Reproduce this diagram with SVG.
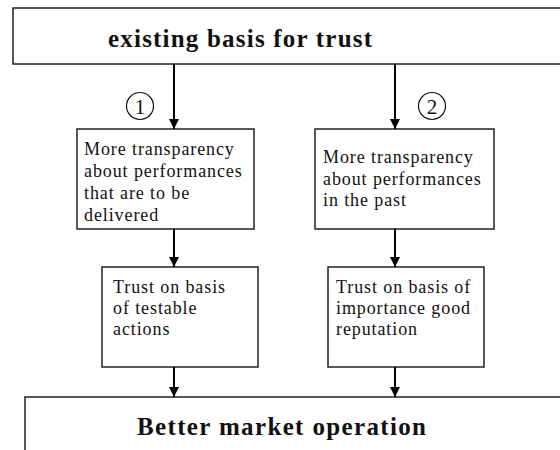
<svg xmlns="http://www.w3.org/2000/svg" width="560" height="450" viewBox="0 0 560 450">
<style>
.box{fill:#fff;stroke:#222;stroke-width:1.5}
.conn{stroke:#000;stroke-width:2;fill:none}
.t{font-family:"Liberation Serif","Times New Roman",serif;font-size:18px;letter-spacing:0.9px;fill:#111}
.h{font-family:"Liberation Serif","Times New Roman",serif;font-size:25px;font-weight:bold;fill:#111}
.num{font-family:"Liberation Serif","Times New Roman",serif;font-size:21px;fill:#111;text-anchor:middle}
.circ{fill:none;stroke:#111;stroke-width:1.2}
</style>
<defs>
<marker id="ah" markerUnits="userSpaceOnUse" markerWidth="11" markerHeight="11" refX="10" refY="5" orient="auto">
<path d="M0,0 L10,5 L0,10 z" fill="#000"/>
</marker>
</defs>
<rect width="560" height="450" fill="#fff"/>
<g id="top">
<rect class="box" x="13" y="8" width="560" height="56"/>
<text class="h" x="108" y="47" textLength="264" lengthAdjust="spacing">existing basis for trust</text>
</g>
<g id="label1">
<circle class="circ" cx="140" cy="106" r="13.5"/>
<text class="num" x="140" y="113.5">1</text>
</g>
<g id="label2">
<circle class="circ" cx="432" cy="106" r="13.5"/>
<text class="num" x="432" y="113.5">2</text>
</g>
<g id="n1">
<rect class="box" x="77" y="129" width="177" height="100"/>
<text class="t" x="84" y="155">More transparency</text>
<text class="t" x="84" y="177">about performances</text>
<text class="t" x="84" y="199">that are to be</text>
<text class="t" x="84" y="221">delivered</text>
</g>
<g id="n2">
<rect class="box" x="315" y="129" width="179" height="100"/>
<text class="t" x="323" y="163">More transparency</text>
<text class="t" x="323" y="185">about performances</text>
<text class="t" x="323" y="206">in the past</text>
</g>
<g id="n3">
<rect class="box" x="102" y="267" width="156" height="100"/>
<text class="t" x="113" y="293">Trust on basis</text>
<text class="t" x="113" y="314">of testable</text>
<text class="t" x="113" y="335">actions</text>
</g>
<g id="n4">
<rect class="box" x="328" y="267" width="156" height="100"/>
<text class="t" x="336" y="293">Trust on basis of</text>
<text class="t" x="336" y="314">importance good</text>
<text class="t" x="336" y="335">reputation</text>
</g>
<g id="bottom">
<rect class="box" x="25" y="397" width="560" height="100"/>
<text class="h" x="137" y="435" textLength="289" lengthAdjust="spacing">Better market operation</text>
</g>
<g id="connectors">
<line class="conn" x1="174" y1="64" x2="174" y2="129" marker-end="url(#ah)"/>
<line class="conn" x1="395" y1="64" x2="395" y2="129" marker-end="url(#ah)"/>
<line class="conn" x1="174" y1="229" x2="174" y2="267" marker-end="url(#ah)"/>
<line class="conn" x1="395" y1="229" x2="395" y2="267" marker-end="url(#ah)"/>
<line class="conn" x1="174" y1="367" x2="174" y2="397" marker-end="url(#ah)"/>
<line class="conn" x1="395" y1="367" x2="395" y2="397" marker-end="url(#ah)"/>
</g>
</svg>
